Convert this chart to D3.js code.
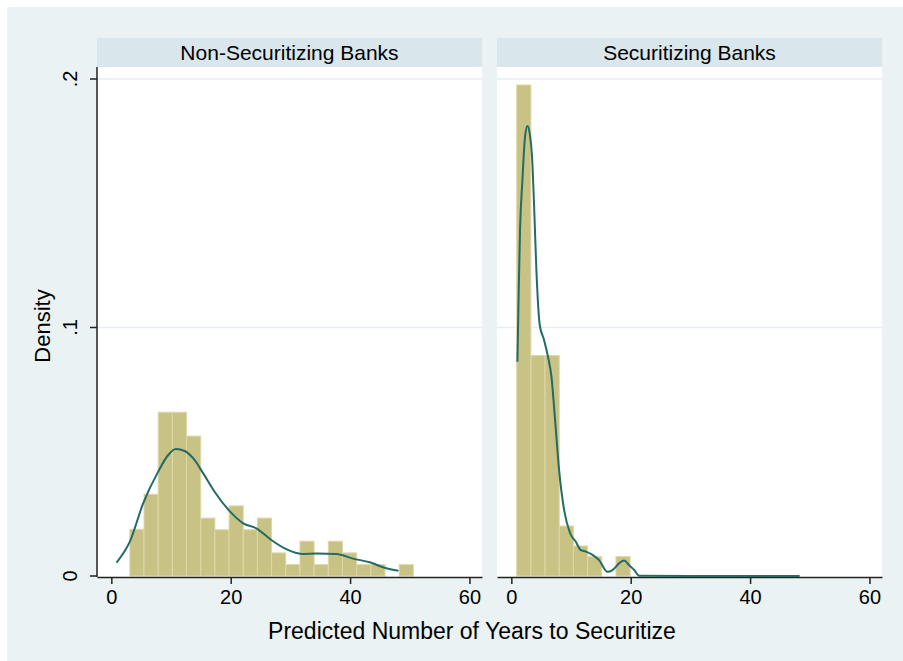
<!DOCTYPE html>
<html>
<head>
<meta charset="utf-8">
<script src="https://cdnjs.cloudflare.com/ajax/libs/d3/7.8.5/d3.min.js"></script>
<style>
  body { margin: 0; background: #ffffff; }
  text { font-family: Arial, "Liberation Sans", sans-serif; fill: #000; }
</style>
</head>
<body>
<div id="chart"></div>
<script>
// panel titles
var panels = ["Non-Securitizing Banks", "Securitizing Banks"]

// histogram bins (start of first bin, common width) and densities
var binWidth = 2.375
var leftBinStart = 3.1
var leftDensity = [0.0188, 0.0329, 0.0659, 0.0659, 0.0563, 0.0233, 0.0186, 0.0282, 0.0186, 0.0233,
                   0.0093, 0.0046, 0.0140, 0.0046, 0.0140, 0.0093, 0.0046, 0.0046, 0, 0.0046]
var rightBinStart = 0.9
var rightDensity = [0.1976, 0.0887, 0.0887, 0.0201, 0.0121, 0.0078, 0, 0.0078]

// kernel density curves
var leftKdeX = [0.87, 3.1, 5.33, 7.85, 9.53, 10.8, 12.3, 13.7, 15.4, 17.3, 19.9, 22.1, 24.3, 26.8,
                29.4, 31.9, 34.4, 37.7, 40.5, 43.3, 45.8, 48.1]
var leftKdeY = [0.0054, 0.0138, 0.0292, 0.0420, 0.0487, 0.0511, 0.0503, 0.0474, 0.0413, 0.0339,
                0.0259, 0.0212, 0.0192, 0.0145, 0.0107, 0.0089, 0.0091, 0.0089, 0.0070, 0.0055, 0.0033, 0.0021]
var rightKdeX = [1.02, 1.24, 1.46, 1.86, 2.3, 2.7, 3.08, 3.47, 3.8, 4.2, 4.76, 5.48, 6.15, 6.72, 7.33,
                 8.0, 8.84, 9.85, 10.8, 11.6, 12.5, 13.6, 14.7, 16.1, 16.95, 18.06, 18.9, 19.7, 20.6,
                 21.4, 30, 48.3]
var rightKdeY = [0.0862, 0.1151, 0.1392, 0.1594, 0.1768, 0.1811, 0.1781, 0.1687, 0.1500, 0.1231, 0.1010,
                 0.0950, 0.0882, 0.0802, 0.0628, 0.0427, 0.0266, 0.0172, 0.0138, 0.0105, 0.0098, 0.0085,
                 0.0064, 0.0017, 0.0024, 0.0051, 0.0062, 0.0044, 0.0024, 0.0001, 0, 0]

// axis ticks
var xTicks = [0, 20, 40, 60]
var yTicks = [0, 0.1, 0.2]
var yTickLabels = ["0", ".1", ".2"]

var width = 903
var height = 661
var panelWidth = 385
var panelLeft = [97, 497]
var plotTop = 67
var plotBottom = 577
var headerTop = 38

var svg = d3.select("#chart")
    .append("svg")
    .attr("width", width)
    .attr("height", height)

// graph region
svg.append("rect")
    .attr("x", 7).attr("y", 7)
    .attr("width", width - 7).attr("height", height - 7)
    .attr("fill", "#eaf2f3")

var xScale = d3.scaleLinear()
    .domain([-2.4, 62.1])
    .range([0, panelWidth])

var yScale = d3.scaleLinear()
    .domain([0, 0.2])
    .range([576, 79])

function bins(start, dens) {
  return dens.map(function(d, i) {
    return {x0: start + i * binWidth, x1: start + (i + 1) * binWidth, y: d}
  })
}

var panelData = [
  {bars: bins(leftBinStart, leftDensity), kx: leftKdeX, ky: leftKdeY},
  {bars: bins(rightBinStart, rightDensity), kx: rightKdeX, ky: rightKdeY}
]

panelData.forEach(function(p, k) {

  var g = svg.append("g")
      .attr("transform", "translate(" + panelLeft[k] + ",0)")

  // header strip
  g.append("rect")
      .attr("x", 0).attr("y", headerTop)
      .attr("width", panelWidth).attr("height", plotTop - headerTop)
      .attr("fill", "#d9e6eb")

  g.append("text")
      .attr("x", panelWidth / 2)
      .attr("y", 60)
      .attr("text-anchor", "middle")
      .style("font-size", "21px")
      .text(panels[k])

  // plot background
  g.append("rect")
      .attr("x", 0).attr("y", plotTop)
      .attr("width", panelWidth).attr("height", plotBottom - plotTop)
      .attr("fill", "#ffffff")

  // gridlines
  g.selectAll(".grid")
      .data(yTicks.slice(1))
      .enter()
      .append("line")
      .attr("x1", 0).attr("x2", panelWidth)
      .attr("y1", function(d) { return yScale(d) })
      .attr("y2", function(d) { return yScale(d) })
      .attr("stroke", "#e6eef1")
      .attr("stroke-width", 1.5)

  // bars
  g.selectAll(".bar")
      .data(p.bars.filter(function(d) { return d.y > 0 }))
      .enter()
      .append("rect")
      .attr("x", function(d) { return xScale(d.x0) })
      .attr("y", function(d) { return yScale(d.y) })
      .attr("width", function(d) { return xScale(d.x1) - xScale(d.x0) })
      .attr("height", function(d) { return yScale(0) - yScale(d.y) })
      .attr("fill", "#c9c285")
      .attr("stroke", "#dcd8a9")
      .attr("stroke-width", 1)

  // x axis
  var xAxis = g.append("g")
      .attr("transform", "translate(0," + plotBottom + ")")
      .call(d3.axisBottom(xScale).tickValues(xTicks).tickSize(7).tickPadding(6).tickSizeOuter(0))
  xAxis.select(".domain").attr("stroke", "#222").attr("stroke-width", 1.5)
  xAxis.selectAll(".tick line").attr("stroke", "#222").attr("stroke-width", 1.5)
  xAxis.selectAll(".tick text")
      .style("font-size", "20px")
      .style("font-family", "Arial, 'Liberation Sans', sans-serif")
      .attr("fill", "#000")

  // density curve
  var line = d3.line()
      .x(function(d) { return xScale(d[0]) })
      .y(function(d) { return yScale(d[1]) })
      .curve(d3.curveMonotoneX)

  g.append("path")
      .datum(d3.zip(p.kx, p.ky))
      .attr("d", line)
      .attr("fill", "none")
      .attr("stroke", "#236b63")
      .attr("stroke-width", 2)
})

// y axis on left panel only
var yAxis = svg.append("g")
    .attr("transform", "translate(" + panelLeft[0] + ",0)")

yAxis.append("line")
    .attr("x1", 0).attr("x2", 0)
    .attr("y1", plotTop).attr("y2", plotBottom)
    .attr("stroke", "#222").attr("stroke-width", 1.5)

yAxis.selectAll(".ytick")
    .data(yTicks)
    .enter()
    .append("line")
    .attr("x1", -7).attr("x2", 0)
    .attr("y1", function(d) { return yScale(d) })
    .attr("y2", function(d) { return yScale(d) })
    .attr("stroke", "#222").attr("stroke-width", 1.5)

yAxis.selectAll(".ylabel")
    .data(yTicks)
    .enter()
    .append("text")
    .attr("transform", function(d) { return "translate(-20," + yScale(d) + ") rotate(-90)" })
    .attr("text-anchor", "middle")
    .style("font-size", "20px")
    .text(function(d, i) { return yTickLabels[i] })

// axis titles
svg.append("text")
    .attr("x", 472)
    .attr("y", 639)
    .attr("text-anchor", "middle")
    .style("font-size", "23px")
    .text("Predicted Number of Years to Securitize")

svg.append("text")
    .attr("transform", "translate(50,326) rotate(-90)")
    .attr("text-anchor", "middle")
    .style("font-size", "22px")
    .text("Density")
</script>
</body>
</html>
